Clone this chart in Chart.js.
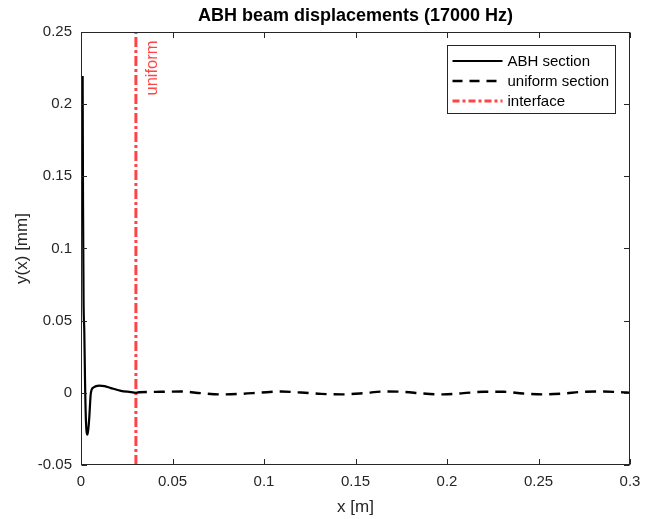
<!DOCTYPE html>
<html>
<head>
<meta charset="utf-8">
<script src="https://cdn.jsdelivr.net/npm/chart.js@4.4.1/dist/chart.umd.min.js"></script>
<style>
  html, body { margin: 0; padding: 0; background: #ffffff; }
  #wrap { width: 650px; height: 519px; position: relative; }
</style>
</head>
<body>
<div id="wrap"><canvas id="c" width="650" height="519"></canvas></div>
<script>
// ---------- data ----------
const titleText = 'ABH beam displacements (17000 Hz)';
const xAxisLabel = 'x [m]';
const yAxisLabel = 'y(x) [mm]';

const abhX = [0.0009, 0.0011, 0.0014, 0.0018, 0.0022, 0.0027, 0.0036, 0.0044, 0.0054, 0.0068, 0.0100, 0.0129, 0.0163, 0.0218, 0.0273, 0.0300];
const abhY = [0.2195, 0.1330, 0.0637, 0.0430, 0.0083, -0.0194, -0.0290, -0.0194, 0.0000, 0.0037, 0.0050, 0.0046, 0.0033, 0.0014, 0.0005, 0.0000];

const uniX = [0.0300, 0.0318, 0.0436, 0.0546, 0.0655, 0.0765, 0.0874, 0.0984, 0.1093, 0.1203, 0.1312, 0.1422, 0.1550, 0.1650, 0.1760, 0.1870, 0.1980, 0.2090, 0.2200, 0.2310, 0.2416, 0.2525, 0.2634, 0.2743, 0.2853, 0.2980, 0.3000];
const uniY = [0.0000, 0.0004, 0.0007, 0.0009, -0.0002, -0.0011, -0.0007, 0.0002, 0.0009, 0.0002, -0.0007, -0.0011, -0.0002, 0.0009, 0.0007, -0.0005, -0.0011, -0.0002, 0.0007, 0.0007, -0.0005, -0.0011, -0.0005, 0.0007, 0.0009, 0.0002, 0.0000];

const interfaceX = [0.03, 0.03];
const interfaceY = [-0.05, 0.25];

const seriesNames = ['ABH section', 'uniform section', 'interface'];

const xTickValues = [0, 0.05, 0.1, 0.15, 0.2, 0.25, 0.3];
const xTickLabels = ['0', '0.05', '0.1', '0.15', '0.2', '0.25', '0.3'];
const yTickValues = [-0.05, 0, 0.05, 0.1, 0.15, 0.2, 0.25];
const yTickLabels = ['-0.05', '0', '0.05', '0.1', '0.15', '0.2', '0.25'];

const annoText = 'uniform';
const annoX = 0.0393;
const annoY = 0.206;

// ---------- styling ----------
const FONT = '"Liberation Sans", Arial, Helvetica, sans-serif';
const AXIS_COLOR = '#262626';
const RED = 'rgb(255,68,68)';

function pts(xs, ys) { return xs.map((x, i) => ({ x: x, y: ys[i] })); }

const datasets = [
  { label: seriesNames[0], data: pts(abhX, abhY), borderColor: '#000000', borderWidth: 2.2,
    pointRadius: 0, cubicInterpolationMode: 'monotone', fill: false, legendDash: [] },
  { label: seriesNames[1], data: pts(uniX, uniY), borderColor: '#000000', borderWidth: 2.4,
    borderDash: [11, 7], pointRadius: 0, cubicInterpolationMode: 'monotone', fill: false, legendDash: [10, 7] },
  { label: seriesNames[2], data: pts(interfaceX, interfaceY), borderColor: RED, borderWidth: 3,
    borderDash: [10, 3, 3, 3], pointRadius: 0, fill: false, legendDash: [7, 3, 3, 3] }
];

const framePlugin = {
  id: 'frame',
  afterDraw(chart) {
    const ctx = chart.ctx;
    const a = chart.chartArea;
    const xs = chart.scales.x, ys = chart.scales.y;
    ctx.save();
    // title centred over the plot area
    ctx.fillStyle = '#000000';
    ctx.font = 'bold 18px ' + FONT;
    ctx.textAlign = 'center';
    ctx.textBaseline = 'middle';
    ctx.fillText(titleText, (a.left + a.right) / 2, 16);

    // box
    ctx.strokeStyle = AXIS_COLOR;
    ctx.lineWidth = 1;
    const L = Math.round(a.left) + 0.5, R = Math.round(a.right) - 0.5;
    const T = Math.round(a.top) + 0.5, B = Math.round(a.bottom) - 0.5;
    ctx.strokeRect(L, T, R - L, B - T);
    // inward ticks
    const tl = 5.5;
    ctx.beginPath();
    xTickValues.forEach(v => {
      const p = Math.round(xs.getPixelForValue(v)) + 0.5;
      ctx.moveTo(p, B); ctx.lineTo(p, B - tl);
      ctx.moveTo(p, T); ctx.lineTo(p, T + tl);
    });
    yTickValues.forEach(v => {
      const p = Math.round(ys.getPixelForValue(v)) + 0.5;
      ctx.moveTo(L, p); ctx.lineTo(L + tl, p);
      ctx.moveTo(R, p); ctx.lineTo(R - tl, p);
    });
    ctx.stroke();

    // annotation text
    ctx.fillStyle = RED;
    ctx.font = '16.5px ' + FONT;
    ctx.textAlign = 'left';
    ctx.textBaseline = 'middle';
    ctx.translate(xs.getPixelForValue(annoX), ys.getPixelForValue(annoY));
    ctx.rotate(-Math.PI / 2);
    ctx.fillText(annoText, 0, 0);
    ctx.restore();

    // legend
    ctx.save();
    const bw = 168, bh = 68;
    const bx = Math.round(a.right - 15 - bw) + 0.5, by = Math.round(a.top + 13) + 0.5;
    ctx.fillStyle = '#ffffff';
    ctx.fillRect(bx, by, bw, bh);
    ctx.strokeStyle = AXIS_COLOR;
    ctx.lineWidth = 1;
    ctx.strokeRect(bx, by, bw, bh);
    ctx.font = '15px ' + FONT;
    ctx.textAlign = 'left';
    ctx.textBaseline = 'middle';
    chart.data.datasets.forEach((ds, i) => {
      const yy = by + 15.5 + i * 20;
      ctx.beginPath();
      ctx.strokeStyle = ds.borderColor;
      ctx.lineWidth = ds.borderWidth;
      ctx.setLineDash(ds.legendDash);
      ctx.moveTo(bx + 5, yy);
      ctx.lineTo(bx + 55, yy);
      ctx.stroke();
      ctx.setLineDash([]);
      ctx.fillStyle = '#000000';
      ctx.fillText(ds.label, bx + 60, yy + 1);
    });
    ctx.restore();
  }
};

new Chart(document.getElementById('c'), {
  type: 'line',
  data: { datasets: datasets },
  plugins: [framePlugin],
  options: {
    responsive: false,
    animation: false,
    layout: { padding: { top: 32, right: 20, left: 0, bottom: 0 } },
    plugins: {
      legend: { display: false },
      tooltip: { enabled: false },
      title: { display: false }
    },
    scales: {
      x: {
        type: 'linear', min: 0, max: 0.3,
        afterBuildTicks: s => { s.ticks = xTickValues.map(v => ({ value: v })); },
        afterFit: s => { s.height = 54; },
        grid: { display: false, drawTicks: false },
        border: { display: false },
        ticks: {
          color: AXIS_COLOR, font: { family: FONT, size: 15 }, padding: 8, maxRotation: 0,
          callback: (v) => { const i = xTickValues.findIndex(t => Math.abs(t - v) < 1e-9); return i >= 0 ? xTickLabels[i] : ''; }
        },
        title: { display: true, text: xAxisLabel, color: AXIS_COLOR, font: { family: FONT, size: 17 }, padding: { top: 0, bottom: 1.5 } }
      },
      y: {
        type: 'linear', min: -0.05, max: 0.25,
        afterBuildTicks: s => { s.ticks = yTickValues.map(v => ({ value: v })); },
        afterFit: s => { s.width = 81; },
        grid: { display: false, drawTicks: false },
        border: { display: false },
        ticks: {
          color: AXIS_COLOR, font: { family: FONT, size: 15 }, padding: 9,
          callback: (v) => { const i = yTickValues.findIndex(t => Math.abs(t - v) < 1e-9); return i >= 0 ? yTickLabels[i] : ''; }
        },
        title: { display: true, text: yAxisLabel, color: AXIS_COLOR, font: { family: FONT, size: 17 }, padding: { top: 12, bottom: 0 } }
      }
    }
  }
});
</script>
</body>
</html>
